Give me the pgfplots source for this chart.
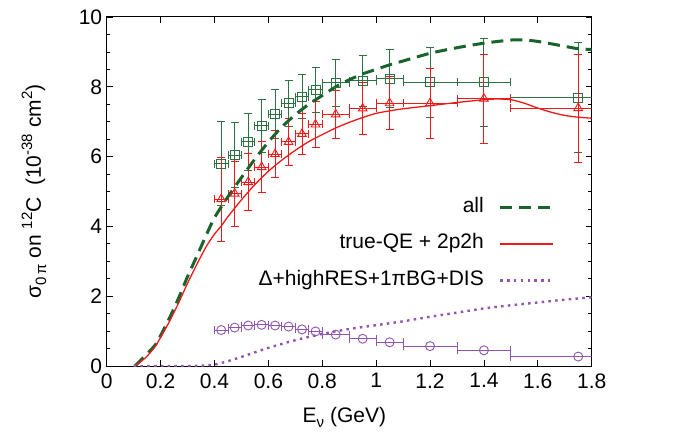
\documentclass[border=0pt]{standalone}
\usepackage{fontspec}
\setmainfont{Liberation Sans}
\usepackage{pgfplots}
\pgfplotsset{compat=1.18}
\usepackage{pgfplotstable}

\definecolor{dgreen}{RGB}{25,100,45}
\definecolor{mgreen}{RGB}{45,115,65}
\definecolor{myred}{RGB}{240,25,25}
\definecolor{mypurple}{RGB}{145,85,175}

\newcommand{\sps}[1]{\raisebox{0.42em}{\fontsize{15}{15}\selectfont #1}}
\newcommand{\sbs}[1]{\raisebox{-0.25em}{\fontsize{15}{15}\selectfont #1}}

\pgfplotstableread{
x y ex ey
0.425 5.80 0.025 1.20
0.475 6.04 0.025 0.93
0.525 6.42 0.025 0.82
0.575 6.88 0.025 0.75
0.625 7.22 0.025 0.69
0.675 7.53 0.025 0.66
0.725 7.72 0.025 0.63
0.775 7.91 0.025 0.65
0.85 8.12 0.05 0.67
0.95 8.17 0.05 0.73
1.05 8.23 0.05 0.83
1.2 8.13 0.1 1.00
1.4 8.13 0.1 1.26
1.75 7.69 0.25 1.57
}\greendata

\pgfplotstableread{
x y ex ey
0.425 4.78 0.025 1.20
0.475 4.94 0.025 0.93
0.525 5.27 0.025 0.81
0.575 5.70 0.025 0.73
0.625 6.07 0.025 0.67
0.675 6.42 0.025 0.66
0.725 6.65 0.025 0.60
0.775 6.92 0.025 0.65
0.85 7.21 0.05 0.69
0.95 7.38 0.05 0.74
1.05 7.53 0.05 0.76
1.2 7.53 0.1 1.00
1.4 7.66 0.1 1.28
1.75 7.39 0.25 1.55
}\reddata

\pgfplotstableread{
x y ex ey
0.425 1.03 0.025 0
0.475 1.10 0.025 0
0.525 1.16 0.025 0
0.575 1.18 0.025 0
0.625 1.16 0.025 0
0.675 1.13 0.025 0
0.725 1.05 0.025 0
0.775 0.99 0.025 0
0.85 0.90 0.05 0
0.95 0.78 0.05 0
1.05 0.68 0.05 0
1.2 0.57 0.1 0
1.4 0.45 0.1 0
1.75 0.27 0.25 0
}\purpledata

\pgfplotstableread{
x y
0.105 0
0.146 0.32
0.18 0.60
0.20 0.87
0.236 1.42
0.27 2.00
0.30 2.56
0.337 3.19
0.37 3.76
0.40 4.25
0.45 4.85
0.50 5.40
0.55 5.93
0.60 6.42
0.65 6.85
0.70 7.20
0.75 7.50
0.80 7.75
0.85 8.00
0.90 8.20
0.95 8.37
1.00 8.50
1.05 8.63
1.10 8.74
1.20 8.96
1.30 9.12
1.40 9.25
1.50 9.34
1.55 9.34
1.60 9.30
1.70 9.16
1.75 9.09
1.80 9.07
}\allcurve

\pgfplotstableread{
x y
0.105 0
0.146 0.25
0.18 0.56
0.20 0.82
0.236 1.32
0.27 1.86
0.30 2.37
0.337 2.95
0.37 3.43
0.40 3.78
0.426 4.02
0.45 4.28
0.50 4.76
0.55 5.20
0.60 5.58
0.65 5.90
0.70 6.18
0.75 6.43
0.80 6.63
0.85 6.82
0.90 6.98
0.95 7.12
1.00 7.24
1.05 7.31
1.10 7.37
1.20 7.46
1.30 7.55
1.40 7.63
1.45 7.65
1.50 7.63
1.55 7.53
1.60 7.39
1.65 7.27
1.70 7.18
1.75 7.13
1.80 7.10
}\qecurve

\pgfplotstableread{
x y
0.10 0
0.20 0
0.30 0
0.35 0.01
0.40 0.04
0.45 0.14
0.50 0.26
0.60 0.52
0.70 0.74
0.80 0.92
0.90 1.06
1.00 1.17
1.10 1.28
1.20 1.41
1.30 1.53
1.40 1.65
1.50 1.74
1.60 1.82
1.70 1.90
1.80 1.97
}\rescurve

\begin{document}
\begin{tikzpicture}
\useasboundingbox (0,0) rectangle (675pt,432pt);
\begin{axis}[
  at={(106.7pt,66pt)}, anchor=south west,
  scale only axis, width=485pt, height=349pt,
  xmin=0, xmax=1.8, ymin=0, ymax=10,
  xtick={0,0.2,...,1.8},
  ytick={0,2,4,6,8,10},
  minor y tick num=3,
  tick align=inside,
  major tick length=6pt, minor tick length=3.5pt,
  every tick/.style={black, line width=0.8pt},
  axis line style={line width=1pt},
  font=\fontsize{21}{25}\selectfont,
  /pgf/number format/assume math mode=true,
  xticklabel style={yshift=-4pt},
  yticklabel style={xshift=-1pt},
  xlabel={E\sbs{ν} (GeV)},
  xlabel style={at={(axis description cs:0.49,-0.148)}, anchor=center},
  ylabel={σ\sbs{0\,π} on \sps{12}C\ \ (10\sps{-38} cm\sps{2})},
  ylabel style={at={(axis description cs:-0.15,0.5)}, anchor=center},
  legend plot pos=right,
  legend cell align=right,
  legend style={draw=none, fill=none, at={(axis cs:1.675,4.95)}, anchor=north east,
    column sep=13pt, row sep=12.5pt,
    nodes={inner sep=2pt, text height=15pt, text depth=5pt},
    font=\fontsize{21}{25}\selectfont},
  error bars/error bar style={line width=0.9pt},
  error bars/error mark options={rotate=90, mark size=4pt, line width=0.9pt},
]
% data points
\addplot[forget plot, only marks, mgreen, mark=square, mark size=4.5pt, mark options={line width=0.9pt},
  error bars/.cd, x dir=both, y dir=both, x explicit, y explicit]
  table[x=x, y=y, x error=ex, y error=ey] {\greendata};
\addplot[forget plot, only marks, myred, mark=triangle, mark size=5pt, mark options={line width=0.9pt},
  error bars/.cd, x dir=both, y dir=both, x explicit, y explicit]
  table[x=x, y=y, x error=ex, y error=ey] {\reddata};
\addplot[forget plot, only marks, mypurple, mark=o, mark size=4.5pt, mark options={line width=0.9pt},
  error bars/.cd, x dir=both, x explicit]
  table[x=x, y=y, x error=ex] {\purpledata};
% curves
\addplot[dgreen, line width=3pt, dash pattern=on 12pt off 7pt, smooth, tension=0.4,
  legend image code/.code={\draw[dgreen, line width=3pt, dash pattern=on 12pt off 7pt] (0pt,0pt) -- (53pt,0pt);}]
  table[x=x,y=y] {\allcurve};
\addlegendentry{all}
\addplot[myred, line width=1.3pt, smooth, tension=0.4,
  legend image code/.code={\draw[myred, line width=1.3pt] (0pt,0pt) -- (53pt,0pt);}]
  table[x=x,y=y] {\qecurve};
\addlegendentry{true-QE + 2p2h}
\addplot[mypurple, line width=2.4pt, dash pattern=on 2.5pt off 4.3pt, smooth, tension=0.4,
  legend image code/.code={\draw[mypurple, line width=2.4pt, dash pattern=on 2.5pt off 4.3pt] (0pt,0pt) -- (53pt,0pt);}]
  table[x=x,y=y] {\rescurve};
\addlegendentry{Δ+highRES+1πBG+DIS}
\end{axis}
\end{tikzpicture}
\end{document}
